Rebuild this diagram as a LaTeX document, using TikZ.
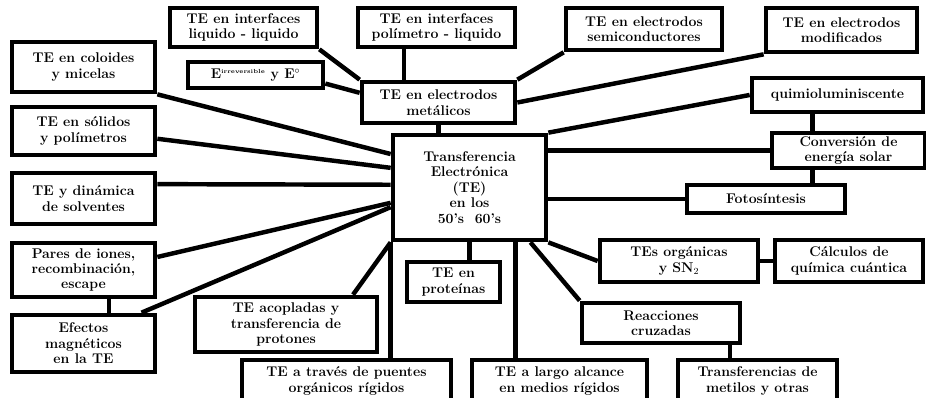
\documentclass[tikz,border=0pt]{standalone}
\usepackage{tikz}
\usetikzlibrary{positioning}

\tikzset{
    tbox/.style={draw, line width=4pt, fill=white, align=center, inner sep=1pt,
        font=\bfseries\fontsize{12}{13.2}\selectfont},
    bw/.style={minimum width=#1*0.03cm},
    bh/.style={minimum height=#1*0.03cm},
    link/.style={line width=3.8pt}
}

\begin{document}
\begin{tikzpicture}[x=0.03cm, y=-0.03cm]

    % Page frame
    \useasboundingbox (0,0) rectangle (926,398);

    % Centre box
    \node[tbox, bw=153, bh=105] (central) at (469.5,187.5) {Transferencia\\Electrónica\\(TE)\\en los\\50's~~60's};

    % Boxes along the top
    \node[tbox, bw=147, bh=39] (liqliq) at (243.5,27.5) {TE en interfaces\\liquido - liquido};
    \node[tbox, bw=157, bh=39] (polliq) at (436.5,27.5) {TE en interfaces\\polímetro - liquido};
    \node[tbox, bw=156, bh=42] (semic) at (644,29) {TE en electrodos\\semiconductores};
    \node[tbox, bw=151, bh=44] (modif) at (841.5,30) {TE en electrodos\\modificados};
    \node[tbox, bw=135, bh=26] (eirrev) at (255.5,75) {E\textsuperscript{\tiny irreversible} y E$^{\circ}$};
    \node[tbox, bw=153, bh=41] (metal) at (438.5,102.5) {TE en electrodos\\metálicos};

    % Boxes down the left side
    \node[tbox, bw=143, bh=50] (coloid) at (83.5,67) {TE en coloides\\y micelas};
    \node[tbox, bw=143, bh=48] (solid) at (83.5,131) {TE en sólidos\\y polímetros};
    \node[tbox, bw=143, bh=51] (dinam) at (83.5,198.5) {TE y dinámica\\de solventes};
    \node[tbox, bw=143, bh=54] (pares) at (83.5,270) {Pares de iones,\\recombinación,\\escape};
    \node[tbox, bw=143, bh=57] (efect) at (83.5,343.5) {Efectos\\magnéticos\\en la TE};

    % Boxes along the bottom
    \node[tbox, bw=182, bh=55] (acopl) at (286,324.5) {TE acopladas y\\transferencia de\\protones};
    \node[tbox, bw=209, bh=42] (puent) at (346.5,381) {TE a través de puentes\\orgánicos rígidos};
    \node[tbox, bw=93, bh=40] (prot) at (453.5,282) {TE en\\proteínas};
    \node[tbox, bw=175, bh=42] (largo) at (559.5,381) {TE a largo alcance\\en medios rígidos};
    \node[tbox, bw=158, bh=40] (reacc) at (661,323) {Reacciones\\cruzadas};
    \node[tbox, bw=159, bh=42] (metil) at (757.5,381) {Transferencias de\\metilos y otras};

    % Boxes on the right
    \node[tbox, bw=171, bh=34] (quimio) at (837.5,95) {quimioluminiscente};
    \node[tbox, bw=153, bh=35] (conver) at (848.5,150.5) {Conversión de\\energía solar};
    \node[tbox, bw=158, bh=28] (foto) at (766,199) {Fotosíntesis};
    \node[tbox, bw=158, bh=42] (organ) at (679,261) {TEs orgánicas\\y SN$_2$};
    \node[tbox, bw=148, bh=42] (calc) at (849,261) {Cálculos de\\química cuántica};

    % Links around the electrodes box
    \draw[link] (liqliq.south east) -- (metal.north west);
    \draw[link] (polliq.214) -- (polliq.214 |- metal.north);
    \draw[link] (semic.south west) -- (metal.north east);
    \draw[link] (modif.south west) -- (metal.east);
    \draw[link] (eirrev.-7) -- (metal.173);
    \draw[link] (metal.south) -- (metal.south |- central.north);

    % Links to the left column
    \draw[link] (coloid.south east) -- (central.157);
    \draw[link] (solid.-6) -- (central.166);
    \draw[link] (dinam.11) -- (central.178);
    \draw[link] (pares.10) -- (central.191);
    \draw[link] (efect.28) -- (central.194);
    \draw[link] (pares.-49) -- (pares.-49 |- efect.north);

    % Links below the centre
    \draw[link] (acopl.24) -- (central.south west);
    \draw[link] (central.south west) -- (central.south west |- puent.north);
    \draw[link] (central.south) -- (central.south |- prot.north);
    \draw[link] (central.-50) -- (central.-50 |- largo.north);
    \draw[link] (central.-42) -- (reacc.north west);
    \draw[link] (reacc.-18) -- (reacc.-18 |- metil.north);
    \draw[link] (central.south east) -- (organ.west);
    \draw[link] (organ.east) -- (calc.west);

    % Links to the right column
    \draw[link] (central.north east) -- (quimio.west);
    \draw[link] (conver.west) -- (conver.west -| central.east);
    \draw[link] (foto.west) -- (foto.west -| central.east);
    \draw[link] (conver.151 |- quimio.south) -- (conver.151);
    \draw[link] (conver.209) -- (conver.209 |- foto.north);

\end{tikzpicture}
\end{document}
